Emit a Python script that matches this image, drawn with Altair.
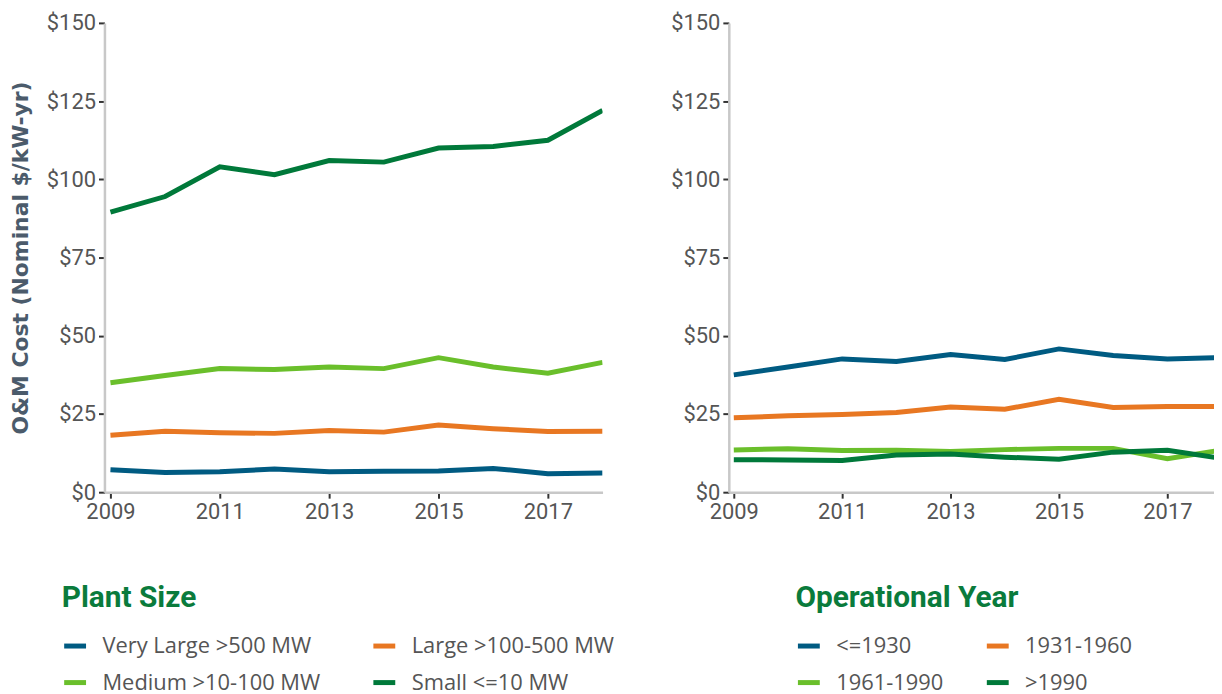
import altair as alt
import pandas as pd

years = [2009, 2010, 2011, 2012, 2013, 2014, 2015, 2016, 2017, 2018]

size_categories = ["Very Large >500 MW", "Large >100-500 MW", "Medium >10-100 MW", "Small <=10 MW"]
very_large = [7.2, 6.3, 6.5, 7.4, 6.5, 6.7, 6.8, 7.6, 5.9, 6.1]
large = [18.2, 19.5, 19.0, 18.8, 19.7, 19.2, 21.5, 20.3, 19.4, 19.5]
medium = [35.0, 37.3, 39.5, 39.2, 40.0, 39.5, 43.0, 40.0, 38.0, 41.5]
small = [89.5, 94.5, 104.0, 101.5, 106.0, 105.5, 110.0, 110.5, 112.5, 122.0]

age_categories = ["<=1930", "1931-1960", "1961-1990", ">1990"]
pre_1930 = [37.5, 40.0, 42.6, 41.8, 44.0, 42.4, 45.8, 43.7, 42.6, 43.0]
y1931_1960 = [23.8, 24.4, 24.8, 25.5, 27.2, 26.5, 29.7, 27.1, 27.4, 27.4]
y1961_1990 = [13.5, 13.9, 13.3, 13.4, 13.0, 13.6, 14.0, 14.0, 10.7, 13.5]
post_1990 = [10.4, 10.3, 10.1, 11.9, 12.2, 11.2, 10.5, 12.8, 13.4, 10.8]

palette = ["#005b82", "#e87722", "#6abf2b", "#00793a"]
y_ticks = [0, 25, 50, 75, 100, 125, 150]
x_ticks = [2009, 2011, 2013, 2015, 2017]

FONT = "Roboto"
LABEL_COLOR = "#555555"


def long_frame(categories, series):
    rows = []
    for cat, vals in zip(categories, series):
        for yr, v in zip(years, vals):
            rows.append({"year": yr, "value": v, "group": cat})
    return pd.DataFrame(rows)


size_df = long_frame(size_categories, [very_large, large, medium, small])
age_df = long_frame(age_categories, [pre_1930, y1931_1960, y1961_1990, post_1990])


def panel(df, categories, legend_title, width, x_min, x_max, y_title, legend_x, legend_y, col_pad):
    if y_title:
        y_axis = alt.Axis(values=y_ticks, labelExpr="'$' + datum.value", title=y_title,
                          titleFont="DejaVu Sans", titleFontSize=22, titleFontWeight="bold",
                          titleColor="#4b5b6b", titlePadding=14)
    else:
        y_axis = alt.Axis(values=y_ticks, labelExpr="'$' + datum.value", title=None)
    return alt.Chart(df).mark_line(strokeWidth=5, clip=True).encode(
        x=alt.X("year:Q",
                scale=alt.Scale(domain=[x_min, x_max], nice=False, zero=False),
                axis=alt.Axis(values=x_ticks, format="d", title=None)),
        y=alt.Y("value:Q", scale=alt.Scale(domain=[0, 150], nice=False), axis=y_axis),
        color=alt.Color("group:N",
                        scale=alt.Scale(domain=categories, range=palette),
                        sort=categories,
                        legend=alt.Legend(title=legend_title, orient="none",
                                          legendX=legend_x, legendY=legend_y,
                                          direction="horizontal",
                                          columns=2, columnPadding=col_pad,
                                          rowPadding=12, labelLimit=500, titleLimit=500,
                                          symbolType="stroke", symbolSize=484,
                                          symbolStrokeWidth=5, labelOffset=14,
                                          titlePadding=20)),
    ).properties(width=width, height=472)


left = panel(size_df, size_categories, "Plant Size", 501, 2008.89, 2018.0,
             "O&M Cost (Nominal $/kW-yr)", -43, 563, 42)
right = panel(age_df, age_categories, "Operational Year", 488, 2008.908, 2017.86,
              "", 67, 563, 33)

chart = alt.hconcat(left, right, spacing=56).resolve_scale(color="independent").properties(
    padding={"left": 1, "top": 2, "right": 0, "bottom": 0}
).configure_view(stroke=None).configure_axis(
    labelFont=FONT, labelFontSize=22, labelColor=LABEL_COLOR,
    domainColor="#c8c8c8", domainWidth=2.5,
    tickColor="#333333", tickWidth=2, tickSize=6, labelPadding=3,
    grid=False,
).configure_legend(
    titleFont=FONT, titleFontSize=30, titleFontWeight="bold", titleColor="#0a7b3c",
    labelFont="Open Sans", labelFontSize=22, labelColor=LABEL_COLOR,
)

chart.save("out.html", embed_options={"renderer": "svg", "actions": False})
